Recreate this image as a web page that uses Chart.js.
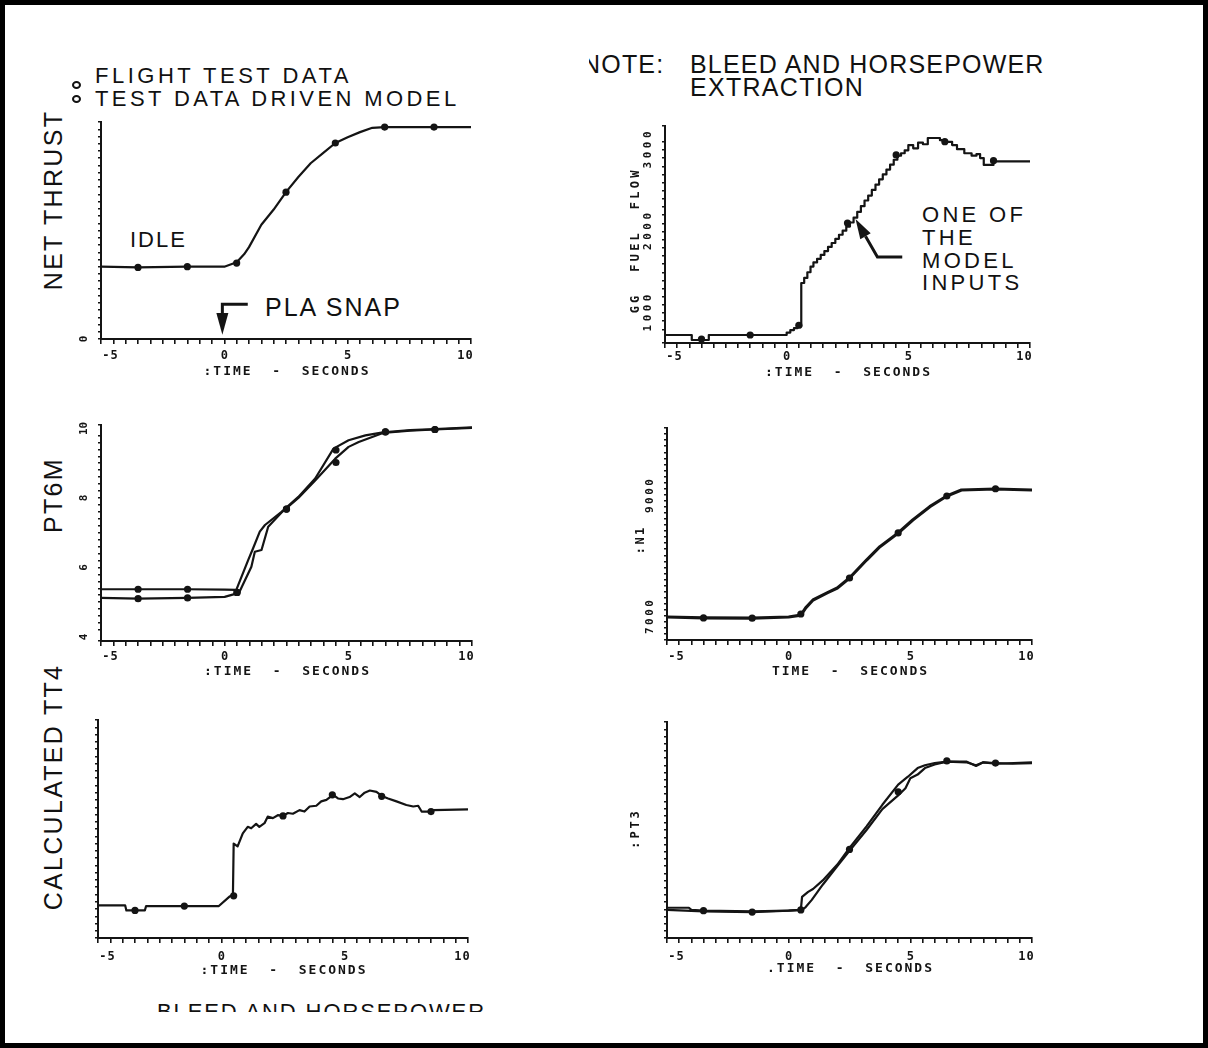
<!DOCTYPE html>
<html><head><meta charset="utf-8">
<script src="https://cdn.jsdelivr.net/npm/chart.js@4.4.0/dist/chart.umd.min.js"></script>
<style>
html,body{margin:0;padding:0;background:#fff;}
#page{position:relative;width:1208px;height:1048px;overflow:hidden;background:#fff;font-family:"Liberation Sans",Arial,sans-serif;color:#111;}
#frame{position:absolute;left:0;top:0;width:1208px;height:1048px;box-sizing:border-box;border:5px solid #000;z-index:10;}
.t{position:absolute;white-space:nowrap;line-height:1;}
.v{position:absolute;white-space:nowrap;line-height:1;font-size:25px;letter-spacing:2.3px;transform:translate(-50%,-50%) rotate(-90deg);}
.sym{position:absolute;width:5px;height:4px;border:2px solid #111;border-radius:50%;}
canvas{position:absolute;}
</style></head>
<body>
<div id="page">
  <div class="sym" style="left:72px;top:81px;"></div>
  <div class="sym" style="left:72px;top:95px;"></div>
  <div class="t" style="left:95px;top:65px;font-size:22px;letter-spacing:3.5px;">FLIGHT TEST DATA</div>
  <div class="t" style="left:95px;top:87.6px;font-size:22px;letter-spacing:3.4px;">TEST DATA DRIVEN MODEL</div>
  <div class="t" style="left:130px;top:229px;font-size:22px;letter-spacing:2px;">IDLE</div>
  <div class="t" style="left:265px;top:294.7px;font-size:25px;letter-spacing:2px;">PLA SNAP</div>
  <div style="position:absolute;left:589px;top:48px;width:90px;height:30px;overflow:hidden;">
    <div class="t" style="left:-7px;top:3.7px;font-size:25px;letter-spacing:1.2px;">NOTE:</div>
  </div>
  <div class="t" style="left:690px;top:51.7px;font-size:25px;letter-spacing:1.2px;">BLEED AND HORSEPOWER</div>
  <div class="t" style="left:690px;top:74.7px;font-size:25px;letter-spacing:1.3px;">EXTRACTION</div>
  <div class="t" style="left:922px;top:203.8px;font-size:22px;letter-spacing:3.3px;">ONE OF</div>
  <div class="t" style="left:922px;top:227px;font-size:22px;letter-spacing:3.3px;">THE</div>
  <div class="t" style="left:922px;top:250px;font-size:22px;letter-spacing:3.3px;">MODEL</div>
  <div class="t" style="left:922px;top:272px;font-size:22px;letter-spacing:3.3px;">INPUTS</div>
  <div class="v" style="left:53px;top:200px;">NET THRUST</div>
  <div class="v" style="left:53px;top:495px;">PT6M</div>
  <div class="v" style="left:53px;top:787px;">CALCULATED TT4</div>
  <div style="position:absolute;left:157px;top:1003px;width:340px;height:9px;overflow:hidden;">
    <div class="t" style="left:0;top:-2px;font-size:22px;letter-spacing:1.9px;">BLEED AND HORSEPOWER</div>
  </div>
  <div id="frame"></div>
</div>
<script>
// ---------- DATA ----------
const markTimes = [-3.5, -1.5, 0.5, 2.5, 4.5, 6.5, 8.5];
const xTickLabels = [-5, 0, 5, 10];

// Net thrust (relative units)
const thrustTime   = [-5, -3.5, -1.5, 0, 0.5, 0.8, 1.0, 1.5, 2.0, 2.5, 3.0, 3.5, 4.0, 4.5, 5.0, 5.5, 6.0, 6.5, 7.5, 8.5, 10];
const thrustValues = [1.0, 0.99, 1.0, 1.0, 1.06, 1.17, 1.27, 1.58, 1.79, 2.03, 2.24, 2.43, 2.57, 2.71, 2.79, 2.86, 2.92, 2.93, 2.93, 2.93, 2.93];
const thrustMarks  = [0.99, 1.0, 1.05, 2.03, 2.71, 2.93, 2.93];
const thrustYLabels = [0];

// GG fuel flow
const fuelTime   = [-5, -3.9, -3.2, 0, 0.15, 0.3, 0.45, 0.6, 0.72, 0.85, 0.98, 1.1, 1.25, 1.4, 1.55, 1.7, 1.85, 2.0, 2.15, 2.3, 2.45, 2.6, 2.75, 2.9, 3.05, 3.2, 3.35, 3.5, 3.65, 3.8, 3.95, 4.1, 4.25, 4.4, 4.55, 4.7, 4.85, 5.0, 5.2, 5.4, 5.6, 5.8, 6.1, 6.3, 6.5, 6.8, 7.0, 7.3, 7.6, 7.8, 7.95, 8.1, 8.5, 10];
const fuelValues = [730, 669, 730, 760, 790, 815, 835, 1368, 1430, 1500, 1570, 1620, 1665, 1712, 1760, 1810, 1859, 1910, 1960, 2010, 2060, 2110, 2170, 2240, 2310, 2380, 2440, 2510, 2575, 2640, 2700, 2760, 2820, 2880, 2930, 2960, 2995, 3060, 3020, 3090, 3070, 3147, 3147, 3120, 3100, 3060, 3010, 2960, 2930, 2950, 2900, 2816, 2860, 2869];
const fuelMarks  = [680, 730, 850, 2104, 2939, 3102, 2869];
const fuelYLabels = [1000, 2000, 3000];

// PT6M
const pt6mTimeA   = [-5, -3.5, -1.5, 0, 0.47, 0.95, 1.15, 1.42, 1.63, 2.3, 2.98, 3.66, 4.4, 5.01, 5.69, 6.4, 7.5, 8.5, 10];
const pt6mValuesA = [5.37, 5.37, 5.37, 5.36, 5.35, 6.21, 6.55, 7.03, 7.22, 7.6, 8.03, 8.56, 9.42, 9.66, 9.8, 9.89, 9.95, 9.98, 10.03];
const pt6mTimeB   = [-5, -3.5, -1.5, 0, 0.5, 0.6, 1.08, 1.22, 1.49, 1.76, 2.3, 2.98, 3.66, 4.47, 5.01, 5.42, 6.4, 7.5, 8.5, 10];
const pt6mValuesB = [5.12, 5.1, 5.12, 5.15, 5.25, 5.3, 6.02, 6.45, 6.5, 7.17, 7.58, 8.0, 8.5, 9.13, 9.47, 9.61, 9.87, 9.94, 9.97, 10.02];
const pt6mMarksA  = [5.37, 5.37, 5.28, 7.68, 9.38, 9.9, 9.97];
const pt6mMarksB  = [5.1, 5.12, 5.28, 7.68, 9.02, 9.9, 9.97];
const pt6mYLabels = [4, 6, 8, 10];

// N1
const n1Time   = [-5, -3.5, -1.5, 0, 0.5, 0.7, 1.0, 1.6, 2.0, 2.5, 3.2, 3.75, 4.5, 5.1, 5.8, 6.5, 7.1, 8.5, 10];
const n1Values = [7000, 6985, 6980, 7000, 7030, 7150, 7281, 7402, 7479, 7645, 7942, 8162, 8388, 8603, 8823, 9000, 9099, 9116, 9099];
const n1Marks  = [6985, 6980, 7050, 7645, 8390, 9000, 9120];
const n1YLabels = [7000, 9000];

// Calculated TT4 (relative units)
const tt4Time   = [-5, -3.9, -3.85, -3.1, -3.05, -0.1, 0.33, 0.47, 0.5, 0.66, 0.87, 1.07, 1.21, 1.41, 1.54, 1.75, 1.88, 2.09, 2.29, 2.49, 2.7, 2.9, 3.17, 3.37, 3.58, 3.85, 4.05, 4.26, 4.53, 4.73, 4.93, 5.2, 5.41, 5.61, 5.81, 6.02, 6.29, 6.53, 6.76, 7.1, 7.5, 7.78, 7.98, 8.12, 8.46, 8.59, 10];
const tt4Values = [0.45, 0.45, 0.38, 0.38, 0.44, 0.44, 0.57, 0.59, 1.30, 1.26, 1.44, 1.53, 1.51, 1.57, 1.53, 1.58, 1.67, 1.65, 1.69, 1.68, 1.72, 1.71, 1.76, 1.74, 1.81, 1.82, 1.88, 1.90, 1.97, 1.92, 1.91, 1.94, 1.99, 1.94, 2.0, 2.03, 2.01, 1.95, 1.92, 1.88, 1.83, 1.81, 1.82, 1.74, 1.74, 1.76, 1.77];
const tt4Marks  = [0.38, 0.44, 0.58, 1.68, 1.97, 1.95, 1.74];

// PT3 (relative units)
const pt3TimeA   = [-5, -4.1, -4.0, -3.5, -1.5, 0, 0.5, 0.55, 0.8, 1.0, 1.4, 2.0, 2.5, 3.2, 3.85, 4.5, 4.9, 5.3, 5.6, 6.0, 6.5, 7.3, 7.7, 8.0, 8.5, 9.2, 10];
const pt3ValuesA = [0.42, 0.42, 0.39, 0.38, 0.37, 0.38, 0.39, 0.57, 0.64, 0.68, 0.8, 1.02, 1.25, 1.55, 1.85, 2.13, 2.24, 2.36, 2.40, 2.43, 2.45, 2.44, 2.40, 2.44, 2.43, 2.42, 2.43];
const pt3TimeB   = [-5, -3.5, -1.5, 0, 0.55, 0.7, 0.95, 1.4, 2.0, 2.5, 3.2, 3.85, 4.5, 4.8, 5.0, 5.3, 5.6, 6.0, 6.5, 7.3, 7.7, 8.0, 8.5, 10];
const pt3ValuesB = [0.39, 0.37, 0.36, 0.38, 0.39, 0.43, 0.53, 0.74, 1.0, 1.21, 1.5, 1.79, 1.98, 2.08, 2.22, 2.27, 2.36, 2.41, 2.45, 2.45, 2.39, 2.44, 2.42, 2.44];
const pt3Marks   = [0.38, 0.36, 0.39, 1.23, 2.03, 2.46, 2.43];

// ---------- LAYOUT ----------
const INK = '#141414';
function spaced(ctx, text, cx, cy, sp) {
  const chars = [...text];
  const w = chars.map(c => ctx.measureText(c).width);
  const total = w.reduce((a, b) => a + b, 0) + sp * (chars.length - 1);
  let x = cx - total / 2;
  ctx.textAlign = 'left';
  chars.forEach((c, i) => { ctx.fillText(c, x, cy); x += w[i] + sp; });
}
function pxy(chart, t, v) { return [chart.scales.x.getPixelForValue(t), chart.scales.y.getPixelForValue(v)]; }

function annotThrust(chart) {
  const ctx = chart.ctx;
  const [x1, y1] = pxy(chart, 0.95, 0.48);
  const [x0] = pxy(chart, -0.08, 0);
  const [, yb] = pxy(chart, 0, 0.36);
  const [, yt] = pxy(chart, 0, 0.06);
  ctx.strokeStyle = INK; ctx.lineWidth = 3;
  ctx.beginPath(); ctx.moveTo(x1, y1); ctx.lineTo(x0, y1); ctx.lineTo(x0, yb); ctx.stroke();
  ctx.fillStyle = INK;
  ctx.beginPath(); ctx.moveTo(x0 - 6, yb); ctx.lineTo(x0 + 6, yb); ctx.lineTo(x0, yt); ctx.closePath(); ctx.fill();
}
function annotFuel(chart) {
  const ctx = chart.ctx;
  const [sx, sy] = pxy(chart, 4.75, 1687);
  const [cx, cy] = pxy(chart, 3.73, 1687);
  const [tx, ty] = pxy(chart, 2.83, 2153);
  const dx = tx - cx, dy = ty - cy, len = Math.hypot(dx, dy);
  const ux = dx / len, uy = dy / len;
  const hl = 20, hw = 6;
  const bx = tx - ux * hl, by = ty - uy * hl;
  ctx.strokeStyle = INK; ctx.lineWidth = 3;
  ctx.beginPath(); ctx.moveTo(sx, sy); ctx.lineTo(cx, cy); ctx.lineTo(bx, by); ctx.stroke();
  ctx.fillStyle = INK;
  ctx.beginPath();
  ctx.moveTo(tx, ty);
  ctx.lineTo(bx - uy * hw, by + ux * hw);
  ctx.lineTo(bx + uy * hw, by - ux * hw);
  ctx.closePath(); ctx.fill();
}

const panels = [
  { id: 'p1', L: 101, R: 471, T: 122, B: 339, yMin: 0, yMax: 3, yStep: 0.1,
    lines: [{ t: thrustTime, v: thrustValues, w: 2.2 }], marks: [thrustMarks],
    yLabels: thrustYLabels, ySp: 0, labDy: 17, titleDy: 33, xTitle: ':TIME  -  SECONDS', annot: annotThrust },
  { id: 'p2', L: 665, R: 1030, T: 126, B: 343, yMin: 632, yMax: 3294, yStep: 100,
    lines: [{ t: fuelTime, v: fuelValues, w: 2.2, stepped: true }], marks: [fuelMarks],
    yLabels: fuelYLabels, ySp: 3.5, labDy: 14, titleDy: 30, xTitle: ':TIME  -  SECONDS',
    yTitle: 'GG  FUEL  FLOW', yTitleDx: -29, yTitleY: 242, yTitleSp: 3.2, annot: annotFuel },
  { id: 'p3', L: 101, R: 472, T: 425, B: 641, yMin: 3.88, yMax: 10.1, yStep: 0.2,
    lines: [{ t: pt6mTimeA, v: pt6mValuesA, w: 2.2 }, { t: pt6mTimeB, v: pt6mValuesB, w: 2.2 }], marks: [pt6mMarksA, pt6mMarksB],
    yLabels: pt6mYLabels, ySp: 0, labDy: 16, titleDy: 31, xTitle: ':TIME  -  SECONDS' },
  { id: 'p4', L: 667, R: 1032, T: 428, B: 640, yMin: 6620, yMax: 10124, yStep: 100,
    lines: [{ t: n1Time, v: n1Values, w: 3.2 }], marks: [n1Marks],
    yLabels: n1YLabels, ySp: 2.5, labDy: 17, titleDy: 32, xTitle: 'TIME  -  SECONDS',
    yTitle: ':N1', yTitleDx: -26, yTitleY: 541, yTitleSp: 2.5 },
  { id: 'p5', L: 98, R: 468, T: 720, B: 938, yMin: 0, yMax: 3, yStep: 0.1,
    lines: [{ t: tt4Time, v: tt4Values, w: 2.2 }], marks: [tt4Marks],
    yLabels: [], ySp: 0, labDy: 19, titleDy: 33, xTitle: ':TIME  -  SECONDS' },
  { id: 'p6', L: 667, R: 1032, T: 722, B: 938, yMin: 0, yMax: 3, yStep: 0.1,
    lines: [{ t: pt3TimeA, v: pt3ValuesA, w: 2.2 }, { t: pt3TimeB, v: pt3ValuesB, w: 2.2 }], marks: [pt3Marks],
    yLabels: [], ySp: 0, labDy: 19, titleDy: 31, xTitle: '.TIME  -  SECONDS',
    yTitle: ':PT3', yTitleDx: -31, yTitleY: 830, yTitleSp: 2.8 }
];
const panelById = {};
panels.forEach(p => panelById[p.id] = p);

const PAD_L = 70, PAD_R = 20, PAD_T = 12, PAD_B = 50;

const textPlugin = {
  id: 'panelText',
  afterDraw(chart) {
    const p = panelById[chart.canvas.id];
    if (!p) return;
    const ctx = chart.ctx, xs = chart.scales.x, ys = chart.scales.y, ca = chart.chartArea;
    ctx.save();
    ctx.fillStyle = INK;
    ctx.textBaseline = 'middle';
    ctx.font = 'bold 12px "DejaVu Sans Mono", monospace';
    xTickLabels.forEach(v => {
      const off = v === -5 ? 9 : (v === 10 ? -6 : 0);
      spaced(ctx, String(v), xs.getPixelForValue(v) + off, ca.bottom + p.labDy, 1);
    });
    ctx.font = 'bold 13px "DejaVu Sans Mono", monospace';
    spaced(ctx, p.xTitle, (ca.left + ca.right) / 2, ca.bottom + p.titleDy, 2);
    ctx.font = 'bold 11px "DejaVu Sans Mono", monospace';
    p.yLabels.forEach(v => {
      ctx.save();
      ctx.translate(ca.left - 17, ys.getPixelForValue(v));
      ctx.rotate(-Math.PI / 2);
      spaced(ctx, String(v), 0, 0, p.ySp);
      ctx.restore();
    });
    if (p.yTitle) {
      ctx.font = 'bold 12px "DejaVu Sans Mono", monospace';
      ctx.save();
      ctx.translate(ca.left + p.yTitleDx, p.yTitleY - (p.T - PAD_T));
      ctx.rotate(-Math.PI / 2);
      spaced(ctx, p.yTitle, 0, 0, p.yTitleSp);
      ctx.restore();
    }
    if (p.annot) p.annot(chart);
    ctx.restore();
  }
};

function makeChart(p) {
  const W = p.R - p.L + PAD_L + PAD_R, H = p.B - p.T + PAD_T + PAD_B;
  const cv = document.createElement('canvas');
  cv.id = p.id;
  cv.width = W; cv.height = H;
  cv.style.left = (p.L - PAD_L) + 'px';
  cv.style.top = (p.T - PAD_T) + 'px';
  cv.style.width = W + 'px'; cv.style.height = H + 'px';
  document.getElementById('page').insertBefore(cv, document.getElementById('frame'));
  const datasets = [];
  p.lines.forEach(s => datasets.push({
    data: s.t.map((t, i) => ({ x: t, y: s.v[i] })),
    borderColor: INK, borderWidth: s.w, pointRadius: 0, fill: false, tension: 0,
    stepped: s.stepped ? 'before' : false, borderJoinStyle: 'round'
  }));
  p.marks.forEach(m => datasets.push({
    data: markTimes.map((t, i) => ({ x: t, y: m[i] })),
    showLine: false, pointRadius: 3.6, pointBackgroundColor: INK, pointBorderColor: INK, pointBorderWidth: 0
  }));
  new Chart(cv, {
    type: 'line',
    data: { datasets },
    options: {
      responsive: false, animation: false, devicePixelRatio: 1, events: [],
      layout: { padding: { left: 0, right: PAD_R, top: PAD_T, bottom: 0 } },
      plugins: { legend: { display: false }, tooltip: { enabled: false } },
      scales: {
        x: {
          type: 'linear', min: -5, max: 10,
          ticks: { display: false, stepSize: 0.5 },
          grid: { display: true, drawOnChartArea: false, drawTicks: true, tickLength: 5, color: INK, lineWidth: 1.6 },
          border: { display: true, color: INK, width: 2 },
          afterFit: s => { s.height = PAD_B; }
        },
        y: {
          type: 'linear', min: p.yMin, max: p.yMax,
          ticks: { display: false, stepSize: p.yStep },
          grid: { display: true, drawOnChartArea: false, drawTicks: true, tickLength: 3, color: INK, lineWidth: 1.4 },
          border: { display: true, color: INK, width: 2 },
          afterFit: s => { s.width = PAD_L; }
        }
      }
    },
    plugins: [textPlugin]
  });
}
panels.forEach(makeChart);
</script>
</body></html>
